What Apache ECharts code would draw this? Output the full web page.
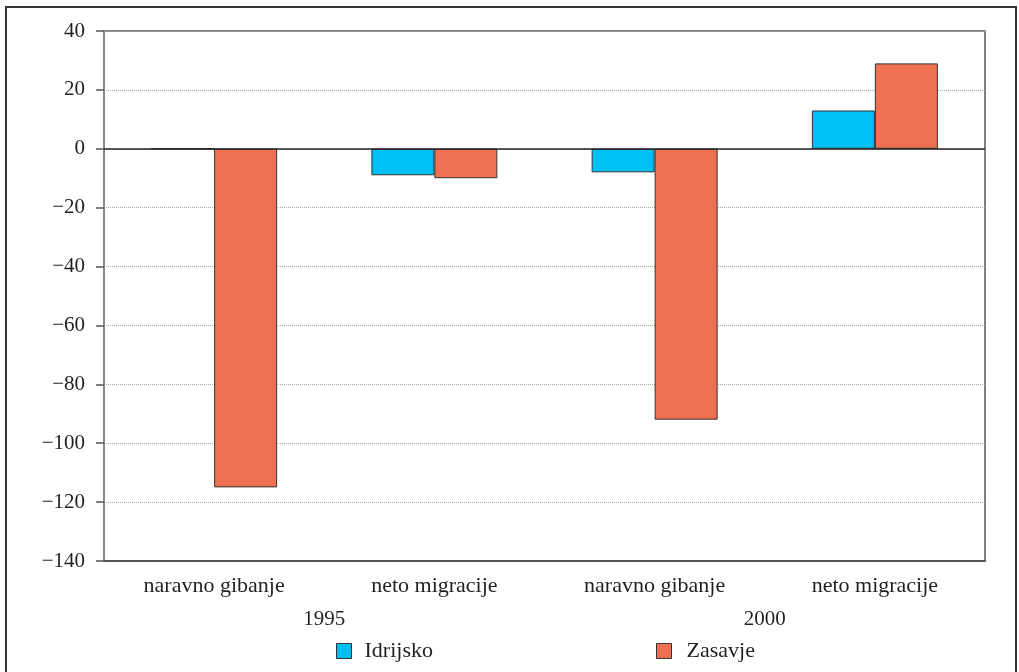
<!DOCTYPE html>
<html>
<head>
<meta charset="utf-8">
<script src="https://cdn.jsdelivr.net/npm/echarts@6/dist/echarts.min.js"></script>
<style>
html,body{margin:0;padding:0;background:#fff;}
#chart{width:1019px;height:672px;}
</style>
</head>
<body>
<div id="chart"></div>
<script>
const categories = ['naravno gibanje', 'neto migracije', 'naravno gibanje', 'neto migracije'];
const years = ['1995', '2000'];
const idrijsko = [0, -9, -8, 13];
const zasavje = [-115, -10, -92, 29];
const seriesNames = ['Idrijsko', 'Zasavje'];
const yTicks = { min: -140, max: 40, interval: 20 };

const FONT = '"Liberation Serif", "Times New Roman", serif';
const TXT = '#231F20';

const chart = echarts.init(document.getElementById('chart'), null, { renderer: 'canvas' });
chart.setOption({
  animation: false,
  backgroundColor: '#fff',
  textStyle: { fontFamily: FONT, color: TXT },
  grid: { left: 104, right: 34, top: 31, bottom: 111, show: true, borderColor: '#555', borderWidth: 1.5, backgroundColor: 'transparent' },
  legend: [
    { data: [seriesNames[0]], left: 336, top: 640, padding: 0, icon: 'rect', itemWidth: 15, itemHeight: 15, itemGap: 10,
      textStyle: { fontFamily: FONT, fontSize: 22, color: TXT, padding: [0,0,0,8] },
      itemStyle: { borderColor: '#333', borderWidth: 1 } },
    { data: [seriesNames[1]], left: 656, top: 640, padding: 0, icon: 'rect', itemWidth: 15, itemHeight: 15, itemGap: 10,
      textStyle: { fontFamily: FONT, fontSize: 22, color: TXT, padding: [0,0,0,10] },
      itemStyle: { borderColor: '#333', borderWidth: 1 } }
  ],
  xAxis: [
    { type: 'category', data: categories, position: 'bottom',
      axisLine: { show: true, onZero: false, lineStyle: { color: '#444', width: 1.5 } },
      axisTick: { show: false },
      axisLabel: { fontFamily: FONT, fontSize: 22, color: TXT, margin: 14, interval: 0 },
      splitLine: { show: false } },
    { type: 'category', data: years, position: 'bottom',
      axisLine: { show: false }, axisTick: { show: false },
      axisLabel: { fontFamily: FONT, fontSize: 21, color: TXT, margin: 48, interval: 0 },
      splitLine: { show: false } }
  ],
  yAxis: {
    type: 'value', min: yTicks.min, max: yTicks.max, interval: yTicks.interval,
    axisLine: { show: true, lineStyle: { color: '#888', width: 2 } },
    axisTick: { show: true, length: 8, lineStyle: { color: '#555', width: 1.5 } },
    axisLabel: { fontFamily: FONT, fontSize: 21, color: TXT, margin: 19,
      formatter: v => v < 0 ? '\u2212' + Math.abs(v) : String(v) },
    splitLine: { show: true, lineStyle: { color: '#aaa', type: [1, 1], width: 1 } }
  },
  series: [
    { name: seriesNames[0], type: 'bar', data: idrijsko, barWidth: 63, barGap: '0%',
      itemStyle: { color: '#00BFF3', borderColor: '#333', borderWidth: 1 },
      markLine: { silent: true, symbol: ['none', 'none'], label: { show: false },
        lineStyle: { color: '#222', type: 'solid', width: 1.5 }, data: [{ yAxis: 0 }] } },
    { name: seriesNames[1], type: 'bar', data: zasavje, barWidth: 63, barGap: '0%',
      itemStyle: { color: '#F07052', borderColor: '#333', borderWidth: 1 } }
  ],
  graphic: [
    { type: 'rect', shape: { x: 6, y: 7, width: 1010, height: 700 },
      style: { fill: 'none', stroke: '#333', lineWidth: 2 }, silent: true }
  ]
});
</script>
</body>
</html>
